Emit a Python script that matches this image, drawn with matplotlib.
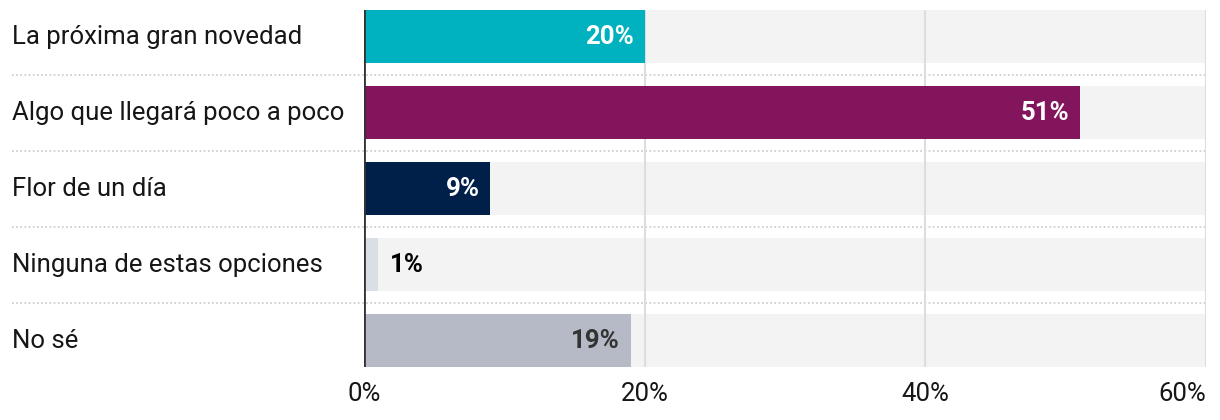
"""Encuesta: cómo se percibe la novedad, barras horizontales con fondo gris."""

import matplotlib

matplotlib.use("Agg")
import matplotlib.pyplot as plt
from matplotlib.transforms import blended_transform_factory

categories = [
    "La próxima gran novedad",
    "Algo que llegará poco a poco",
    "Flor de un día",
    "Ninguna de estas opciones",
    "No sé",
]
values = [20, 51, 9, 1, 19]
bar_colors = ["#00b2bf", "#83155c", "#00204a", "#dadfe6", "#b5bac6"]
label_colors = ["white", "white", "white", "black", "#333333"]
x_ticks = [0, 20, 40, 60]
x_tick_labels = ["0%", "20%", "40%", "60%"]

AXIS_MAX = 60
BAR_HEIGHT = 0.7
FONT = ["Roboto", "DejaVu Sans"]
TEXT_SIZE = 18.5

plt.rcParams["font.family"] = FONT

figure = plt.figure(figsize=(12.2, 4.2), dpi=100)
axis = figure.add_axes([364 / 1220, 0.1257, (1206 - 364) / 1220, 0.8505])

positions = list(range(len(categories)))
axis.barh(positions, [AXIS_MAX] * len(categories), height=BAR_HEIGHT,
          color="#f3f3f3", zorder=1)
for tick in x_ticks[1:]:
    axis.axvline(tick, color="#dddddd", linewidth=1.5, zorder=2)
axis.barh(positions, values, height=BAR_HEIGHT, color=bar_colors, zorder=3)
axis.axvline(0, color="#333333", linewidth=2, zorder=4)

for position, value, text_color in zip(positions, values, label_colors):
    if value < 5:
        axis.text(value + 0.85, position, f"{value}%", ha="left", va="center",
                  fontsize=TEXT_SIZE, fontweight="bold", color=text_color, zorder=5)
    else:
        axis.text(value - 0.75, position, f"{value}%", ha="right", va="center",
                  fontsize=TEXT_SIZE, fontweight="bold", color=text_color, zorder=5)

# category labels and dotted separators in figure x-coordinates
row_transform = blended_transform_factory(figure.transFigure, axis.transData)
for position, category in zip(positions, categories):
    axis.text(12 / 1220, position, category, transform=row_transform,
              ha="left", va="center", fontsize=TEXT_SIZE, color="#161616")
for position in positions[:-1]:
    axis.plot([12 / 1220, 1205 / 1220], [position + 0.5] * 2,
              transform=row_transform, color="#c8c8c8", linewidth=1.2,
              linestyle=(0, (1, 1.5)), clip_on=False, zorder=0)

axis.set_xlim(0, AXIS_MAX)
axis.set_ylim(len(categories) - 1 + BAR_HEIGHT / 2, -BAR_HEIGHT / 2)
axis.set_xticks(x_ticks, x_tick_labels, fontsize=TEXT_SIZE, color="#161616")
axis.get_xticklabels()[-1].set_horizontalalignment("right")
axis.tick_params(axis="x", length=0, pad=11)
axis.set_yticks([])
for spine in axis.spines.values():
    spine.set_visible(False)

figure.savefig("out.png", dpi=100)
plt.close(figure)
